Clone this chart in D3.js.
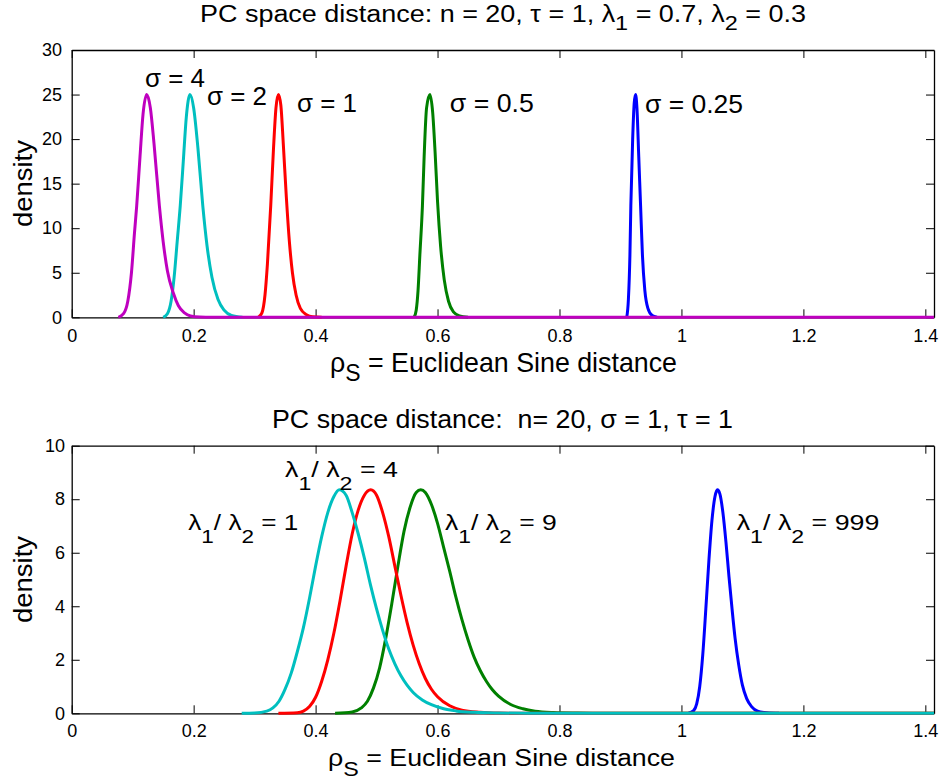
<!DOCTYPE html>
<html><head><meta charset="utf-8">
<script src="https://cdn.jsdelivr.net/npm/d3@7"></script>
<style>
body{margin:0;background:#fff}
text{font-family:"Liberation Sans",Arial,Helvetica,sans-serif;white-space:pre;fill:#000}
</style>
</head><body><svg id="c" width="941" height="782"></svg>
<script>
// ---------- axis ticks ----------
const xTicks = [0, 0.2, 0.4, 0.6, 0.8, 1, 1.2, 1.4];
const xTickLabels = ["0", "0.2", "0.4", "0.6", "0.8", "1", "1.2", "1.4"];
const topYTicks = [0, 5, 10, 15, 20, 25, 30];
const botYTicks = [0, 2, 4, 6, 8, 10];

// ---------- top panel: sigma series ----------
const topNames = ["σ = 0.25", "σ = 0.5", "σ = 1", "σ = 2", "σ = 4"];
const s025X = [0.9103, 0.913, 0.9155, 0.917, 0.920, 0.9225, 0.9247, 0.927, 0.930, 0.933, 0.936, 0.940, 0.945, 0.952, 0.96];
const s025Y = [0, 2, 7, 12.5, 20, 24, 25, 23.5, 18, 12.5, 7, 3, 1, 0.2, 0];
const s05X = [0.5615, 0.565, 0.568, 0.571, 0.5752, 0.578, 0.582, 0.5875, 0.592, 0.596, 0.600, 0.605, 0.611, 0.618, 0.626, 0.636, 0.65];
const s05Y = [0, 0.8, 3, 7, 12.5, 18, 23.5, 25, 23, 18.5, 13, 8, 4.2, 1.8, 0.6, 0.15, 0];
const s1X = [0.306, 0.312, 0.317, 0.321, 0.3264, 0.331, 0.335, 0.339, 0.343, 0.347, 0.352, 0.357, 0.362, 0.368, 0.375, 0.385, 0.395, 0.41];
const s1Y = [0, 0.5, 2.5, 6, 12.5, 19, 23.5, 25, 23.8, 19.5, 13.5, 8.5, 5, 2.5, 1, 0.3, 0.05, 0];
const s2X = [0.150, 0.157, 0.163, 0.168, 0.173, 0.178, 0.183, 0.188, 0.194, 0.200, 0.207, 0.215, 0.222, 0.230, 0.240, 0.250, 0.262, 0.28];
const s2Y = [0, 0.4, 1.8, 4.5, 8.5, 12.5, 17.5, 22.5, 25, 23.5, 19, 12.5, 8, 4.5, 2, 0.8, 0.2, 0];
const s4X = [0.0765, 0.085, 0.092, 0.098, 0.103, 0.1066, 0.112, 0.117, 0.123, 0.129, 0.135, 0.1438, 0.150, 0.157, 0.1668, 0.175, 0.185, 0.195, 0.21, 0.23, 1.4142];
const s4Y = [0, 0.4, 1.8, 5, 9.5, 12.5, 18, 22.8, 25, 23.5, 19.5, 12.5, 8.5, 5.2, 2.7, 1.3, 0.5, 0.15, 0.03, 0, 0];

// ---------- bottom panel: lambda ratio series ----------
const botNames = ["999", "9", "4", "1"];
const r999X = [1.0114, 1.02, 1.025, 1.03, 1.035, 1.04, 1.045, 1.05, 1.055, 1.0589, 1.063, 1.068, 1.073, 1.078, 1.083, 1.088, 1.094, 1.10, 1.107, 1.115, 1.125, 1.14, 1.16];
const r999Y = [0, 0.1, 0.35, 1.0, 2.2, 3.9, 5.7, 7.2, 8.1, 8.35, 8.2, 7.5, 6.4, 5.1, 3.9, 2.8, 1.8, 1.05, 0.55, 0.25, 0.08, 0.02, 0];
const r9X = [0.432, 0.46, 0.475, 0.485, 0.495, 0.505, 0.515, 0.525, 0.535, 0.545, 0.555, 0.565, 0.5725, 0.58, 0.59, 0.60, 0.61, 0.62, 0.63, 0.64, 0.65, 0.66, 0.67, 0.68, 0.69, 0.70, 0.72, 0.74, 0.76, 0.79, 0.83, 0.87, 1.4142];
const r9Y = [0, 0.05, 0.2, 0.45, 0.95, 1.7, 2.8, 4.1, 5.5, 6.8, 7.7, 8.25, 8.35, 8.25, 7.8, 7.1, 6.2, 5.3, 4.35, 3.5, 2.75, 2.1, 1.6, 1.2, 0.88, 0.64, 0.33, 0.17, 0.08, 0.03, 0.01, 0, 0];
const r4X = [0.339, 0.37, 0.38, 0.39, 0.40, 0.41, 0.42, 0.43, 0.44, 0.45, 0.46, 0.47, 0.48, 0.4904, 0.50, 0.51, 0.52, 0.53, 0.54, 0.55, 0.56, 0.57, 0.58, 0.59, 0.60, 0.62, 0.64, 0.67, 0.70, 0.74, 1.4142];
const r4Y = [0, 0.02, 0.08, 0.25, 0.6, 1.2, 2.0, 3.0, 4.2, 5.5, 6.7, 7.6, 8.15, 8.35, 8.15, 7.5, 6.6, 5.5, 4.4, 3.4, 2.55, 1.85, 1.3, 0.9, 0.62, 0.28, 0.12, 0.04, 0.01, 0, 0];
const r1X = [0.2788, 0.30, 0.32, 0.33, 0.34, 0.35, 0.36, 0.37, 0.38, 0.39, 0.40, 0.41, 0.42, 0.43, 0.439, 0.45, 0.46, 0.47, 0.48, 0.49, 0.50, 0.51, 0.52, 0.53, 0.54, 0.55, 0.56, 0.575, 0.59, 0.61, 0.63, 0.66, 0.70, 0.75, 1.4142];
const r1Y = [0, 0.01, 0.08, 0.2, 0.45, 0.9, 1.5, 2.3, 3.2, 4.3, 5.5, 6.6, 7.5, 8.1, 8.35, 8.15, 7.5, 6.7, 5.8, 4.8, 3.9, 3.1, 2.4, 1.85, 1.4, 1.05, 0.78, 0.5, 0.32, 0.17, 0.09, 0.035, 0.01, 0, 0];

// ---------- styles / layout (not data) ----------
const topColors = ["#0000ff", "#008000", "#ff0000", "#00bfbf", "#bf00bf"];
const botColors = ["#0000ff", "#008000", "#ff0000", "#00bfbf"];
const XMAX = 1.4142;

const svg = d3.select("#c");

function drawPanel(cfg) {
  const x = d3.scaleLinear().domain([0, XMAX]).range([71.7, 934]);
  const y = d3.scaleLinear().domain([0, cfg.ymax]).range([cfg.yb, cfg.yt]);
  const g = svg.append("g");

  const styleAxis = sel => {
    sel.attr("font-size", null).attr("font-family", null);
    sel.select(".domain").attr("stroke", "#000").attr("stroke-width", 1.3);
    sel.selectAll(".tick line").attr("stroke", "#000").attr("stroke-width", 1);
    sel.selectAll(".tick text").style("font-size", "18px").attr("fill", "#000");
  };

  g.append("g").attr("transform", `translate(0,${cfg.yb})`)
    .call(d3.axisBottom(x).tickValues(xTicks).tickFormat((d, i) => xTickLabels[i])
      .tickSizeInner(-8).tickSizeOuter(0).tickPadding(cfg.xPad))
    .call(styleAxis);
  g.append("g").attr("transform", `translate(0,${cfg.yt})`)
    .call(d3.axisTop(x).tickValues(xTicks).tickFormat("").tickSizeInner(-8).tickSizeOuter(0))
    .call(styleAxis);
  g.append("g").attr("transform", `translate(71.7,0)`)
    .call(d3.axisLeft(y).tickValues(cfg.yTicks).tickFormat(d3.format("d"))
      .tickSizeInner(-8).tickSizeOuter(0).tickPadding(cfg.yPad))
    .call(styleAxis);
  g.append("g").attr("transform", `translate(934,0)`)
    .call(d3.axisRight(y).tickValues(cfg.yTicks).tickFormat("").tickSizeInner(-8).tickSizeOuter(0))
    .call(styleAxis);

  const line = d3.line().x(d => x(d[0])).y(d => y(d[1])).curve(d3.curveMonotoneX);
  cfg.series.forEach((s, i) => {
    const pts = s[0].map((v, k) => [v, s[1][k]]);
    g.append("path").attr("d", line(pts)).attr("fill", "none")
      .attr("stroke", cfg.colors[i]).attr("stroke-width", 3)
      .attr("stroke-linejoin", "round").attr("stroke-linecap", "butt");
  });
  return { x, y, g };
}

function richText(parent, px, py, segs, size, subSize, subDy, len) {
  const t = parent.append("text").attr("x", px).attr("y", py).style("font-size", size + "px");
  let back = 0;
  segs.forEach(s => {
    const ts = t.append("tspan").text(s.t);
    if (s.sub) {
      ts.attr("dy", subDy - back).style("font-size", subSize + "px");
      back = subDy;
    } else if (back) {
      ts.attr("dy", -back);
      back = 0;
    }
  });
  if (len) t.attr("textLength", len).attr("lengthAdjust", "spacingAndGlyphs");
  return t;
}

// ---------- top panel ----------
const topP = drawPanel({
  ymax: 30, yt: 50, yb: 317.3, yTicks: topYTicks, xPad: 12.3, yPad: 9.7,
  colors: topColors,
  series: [[s025X, s025Y], [s05X, s05Y], [s1X, s1Y], [s2X, s2Y], [s4X, s4Y]]
});
const topLabelPos = [[0.9403, 22.95, 98], [0.6201, 22.99, 84], [0.3695, 23.0, 60], [0.2219, 23.85, 60], [0.1202, 25.87, 60]];
topNames.forEach((nm, i) => {
  const p = topLabelPos[i];
  svg.append("text").attr("x", topP.x(p[0])).attr("y", topP.y(p[1]))
    .style("font-size", "25px").attr("textLength", p[2]).attr("lengthAdjust", "spacingAndGlyphs").text(nm);
});
richText(svg, 200, 21.7, [
  { t: "PC space distance: n = 20, τ = 1, λ" }, { t: "1", sub: true },
  { t: " = 0.7, λ" }, { t: "2", sub: true }, { t: " = 0.3" }], 23, 20, 8, 606);
richText(svg, 330, 372, [{ t: "ρ" }, { t: "S", sub: true }, { t: " = Euclidean Sine distance" }], 28, 24, 9, 347);
svg.append("text").attr("transform", "translate(32,183.6) rotate(-90)")
  .attr("text-anchor", "middle").style("font-size", "26px")
  .attr("textLength", 87).attr("lengthAdjust", "spacingAndGlyphs").text("density");

// ---------- bottom panel ----------
const botP = drawPanel({
  ymax: 10, yt: 445.7, yb: 713.3, yTicks: botYTicks, xPad: 11.3, yPad: 6.7,
  colors: botColors,
  series: [[r999X, r999Y], [r9X, r9Y], [r4X, r4Y], [r1X, r1Y]]
});
const botLabelPos = [[1.0907, 6.85, 142.6], [0.6123, 6.85, 111.7], [0.3498, 8.84, 113], [0.1912, 6.85, 110]];
botNames.forEach((nm, i) => {
  const p = botLabelPos[i];
  richText(svg, botP.x(p[0]), botP.y(p[1]), [
    { t: "λ" }, { t: "1", sub: true }, { t: "/ λ" }, { t: "2", sub: true }, { t: " = " + nm }], 22, 19, 13, p[2]);
});
svg.append("text").attr("x", 272).attr("y", 427.5).style("font-size", "26px")
  .attr("textLength", 461).attr("lengthAdjust", "spacingAndGlyphs")
  .text("PC space distance:  n= 20, σ = 1, τ = 1");
richText(svg, 328, 766, [{ t: "ρ" }, { t: "S", sub: true }, { t: " = Euclidean Sine distance" }], 23, 20, 10, 347);
svg.append("text").attr("transform", "translate(32,579.5) rotate(-90)")
  .attr("text-anchor", "middle").style("font-size", "26px")
  .attr("textLength", 87).attr("lengthAdjust", "spacingAndGlyphs").text("density");
</script>
</body></html>
